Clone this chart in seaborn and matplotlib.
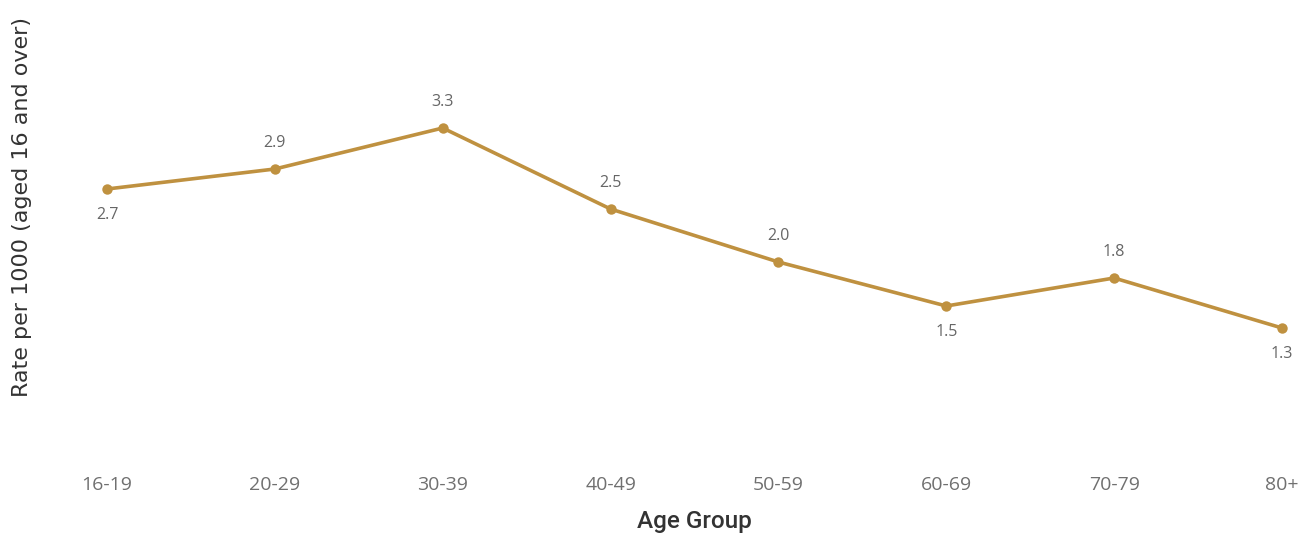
import matplotlib
matplotlib.use("Agg")
import matplotlib.pyplot as plt
import seaborn as sns
import pandas as pd

# data
age_groups = ["16-19", "20-29", "30-39", "40-49", "50-59", "60-69", "70-79", "80+"]
rates = [2.70, 2.90, 3.31, 2.50, 1.97, 1.53, 1.81, 1.31]
label_side = ["below", "above", "above", "above", "above", "below", "above", "below"]

line_color = "#BF9140"
text_grey = "#666666"

sns.set_theme(style="white")
plt.rcParams["font.family"] = ["Open Sans", "DejaVu Sans"]

df = pd.DataFrame({"Age Group": age_groups, "Rate": rates})
df["pos"] = range(len(df))

fig = plt.figure(figsize=(13.09, 5.36), dpi=100)
ax = fig.add_axes([107 / 1309, 77 / 536, 1175 / 1309, 350 / 536])

sns.lineplot(data=df, x="pos", y="Rate", ax=ax, color=line_color,
             linewidth=2.6, marker="o", markersize=7.5,
             markeredgewidth=0, clip_on=False)

for i, (v, side) in enumerate(zip(rates, label_side)):
    dy = 19 if side == "above" else -19
    ax.annotate(f"{v:.1f}", (i, v), xytext=(0, dy), textcoords="offset points",
                ha="center", va="center", fontsize=11.5, color=text_grey)

ax.set_xlim(0, len(age_groups) - 1)
ax.set_ylim(0, 3.5)
ax.set_xticks(range(len(age_groups)))
ax.set_xticklabels(age_groups, fontsize=14, color="#707070")
ax.set_yticks([])
ax.tick_params(axis="x", length=0, pad=12)
sns.despine(ax=ax, left=True, bottom=True)

ax.set_xlabel("Age Group", fontsize=17.5, color="#333333", fontweight="medium",
              family=["Roboto", "DejaVu Sans"])
ax.xaxis.set_label_coords(0.5, -0.145)
ax.set_ylabel("Rate per 1000 (aged 16 and over)", fontsize=16,
              color="#333333", family=["DejaVu Sans"])
ax.yaxis.set_label_coords(-0.064, 0.72)

fig.savefig("out.png", dpi=100, facecolor="white")
